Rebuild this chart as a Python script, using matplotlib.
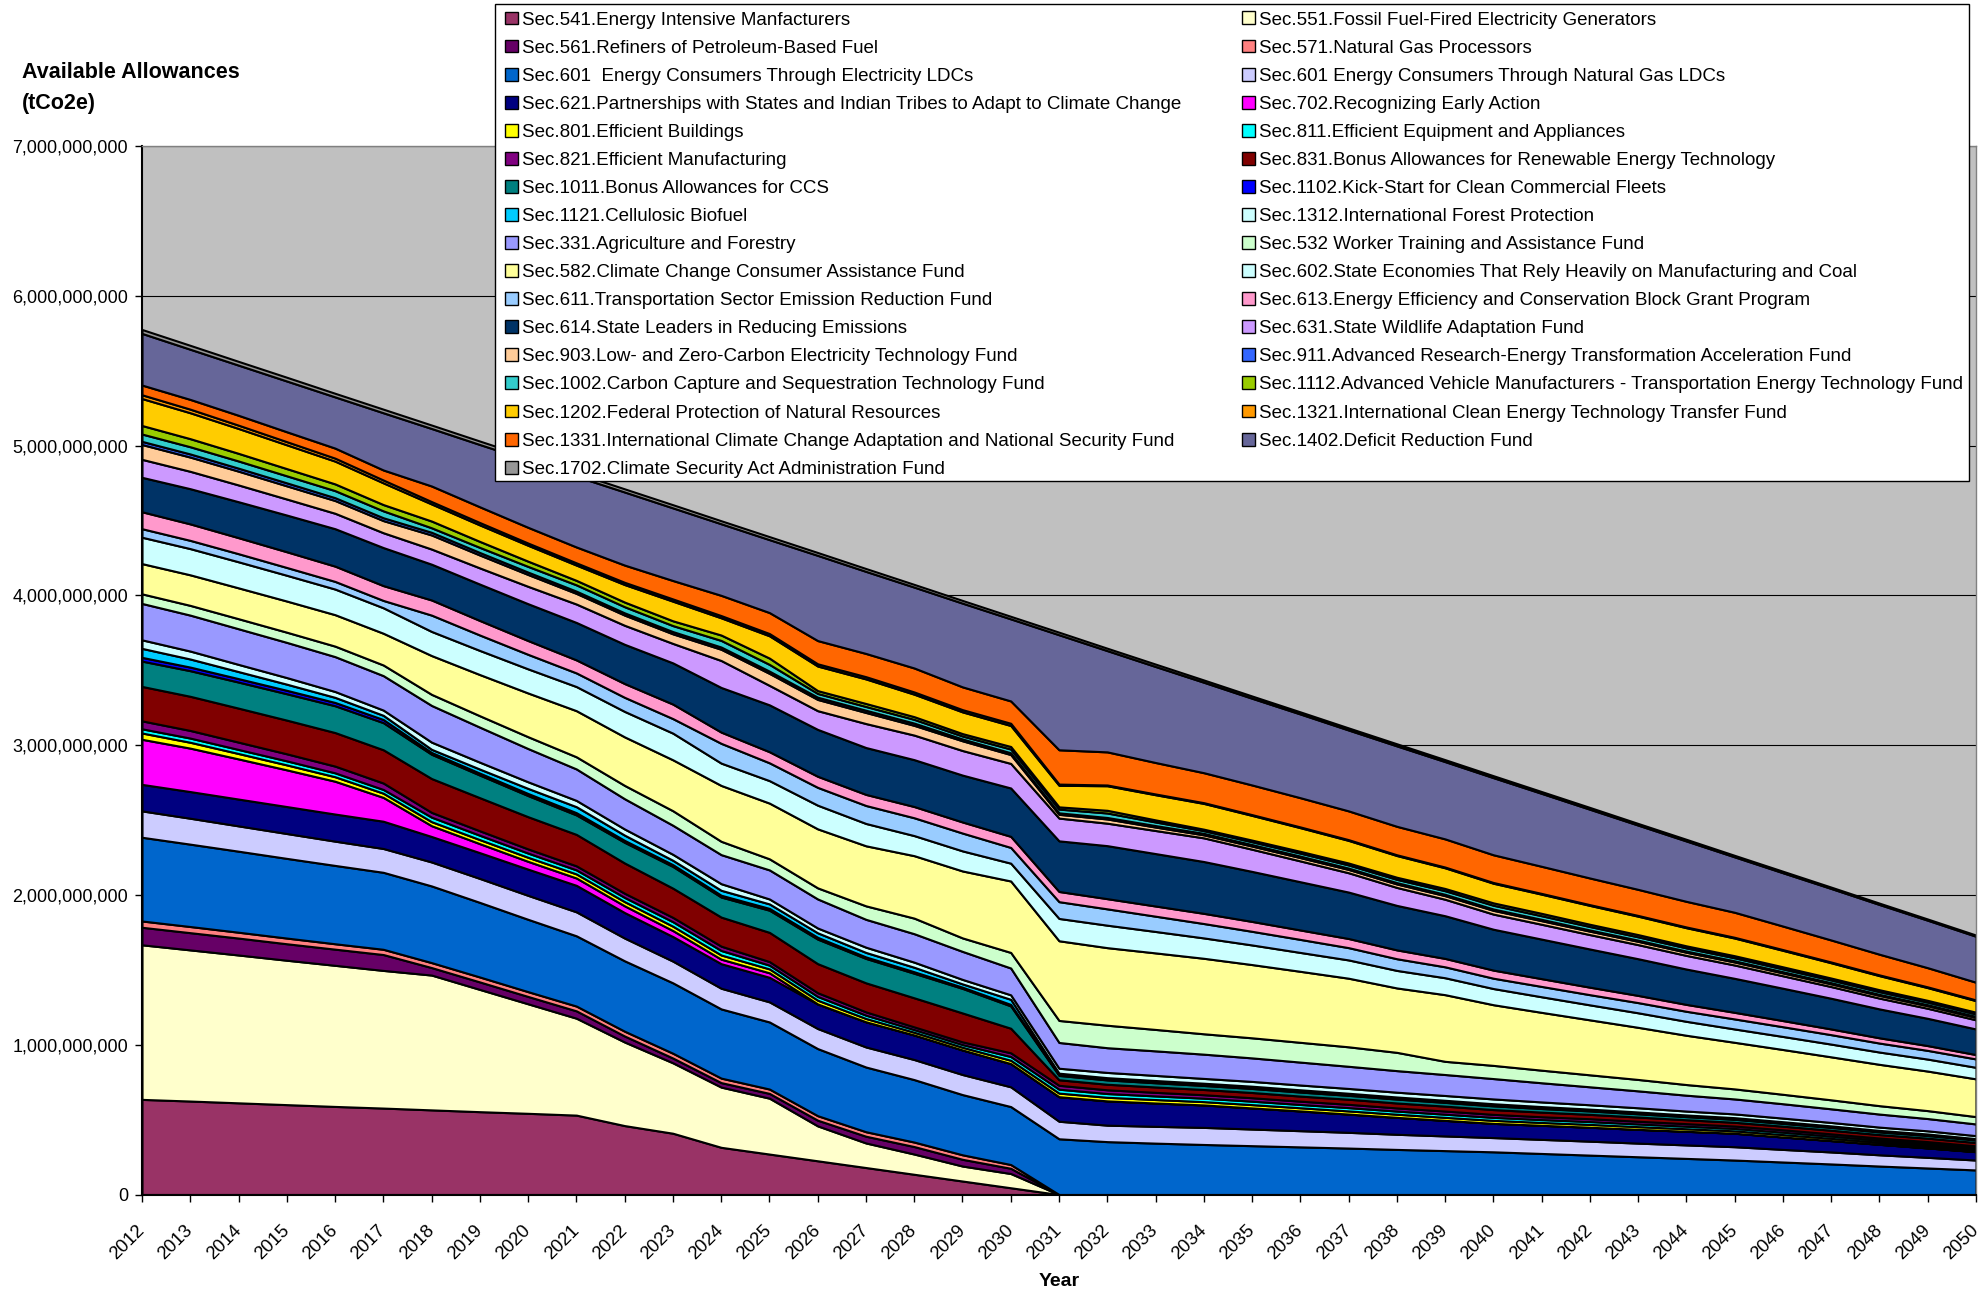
import matplotlib
matplotlib.use('Agg')
import matplotlib.pyplot as plt
from matplotlib.patches import Patch, Rectangle
from matplotlib.ticker import FuncFormatter, MultipleLocator

plt.rcParams['font.family'] = ['Liberation Sans', 'DejaVu Sans']

years = list(range(2012, 2051))

# allowances per section, million tCO2e, 2012..2050
s541 = [635, 624, 612, 600, 588, 577, 565, 553, 542, 530, 460, 409, 315, 270, 225, 180, 135, 90, 45,
        0, 0, 0, 0, 0, 0, 0, 0, 0, 0, 0, 0, 0, 0, 0, 0, 0, 0, 0, 0]
s551 = [1032, 1009, 987, 964, 942, 919, 900, 816, 731, 647, 558, 470, 402, 373, 233, 164, 135, 100, 95,
        0, 0, 0, 0, 0, 0, 0, 0, 0, 0, 0, 0, 0, 0, 0, 0, 0, 0, 0, 0]
s561 = [117, 115, 113, 110, 108, 106, 50, 50, 49, 49, 40, 32, 30, 32, 38, 45, 50, 45, 35,
        0, 0, 0, 0, 0, 0, 0, 0, 0, 0, 0, 0, 0, 0, 0, 0, 0, 0, 0, 0]
s571 = [42, 41, 39, 38, 36, 35, 33, 33, 32, 32, 32, 32, 30, 29, 30, 30, 30, 30, 25,
        0, 0, 0, 0, 0, 0, 0, 0, 0, 0, 0, 0, 0, 0, 0, 0, 0, 0, 0, 0]
s601e = [559, 550, 541, 532, 523, 514, 512, 498, 483, 469, 470, 470, 462, 448, 448, 432, 417, 402, 387,
         372, 353, 343, 334, 326, 318, 310, 301, 293, 285, 274, 263, 252, 241, 230, 217, 204, 190, 177, 164]
s601g = [176, 173, 169, 166, 162, 159, 160, 160, 160, 160, 152, 145, 138, 134, 134, 134, 134, 134, 132,
         117, 110, 112, 114, 111, 108, 105, 101, 98, 95, 94, 93, 91, 90, 89, 84, 80, 75, 71, 66]
s621 = [177, 178, 179, 180, 181, 182, 170, 172, 175, 177, 170, 164, 164, 164, 164, 168, 164, 164, 155,
        164, 162, 156, 150, 141, 132, 122, 113, 104, 95, 94, 93, 92, 91, 90, 83, 76, 70, 63, 56]
s702 = [301, 290, 268, 245, 219, 159, 72, 60, 52, 49, 45, 40, 30, 30, 0, 0, 0, 0, 0,
        0, 0, 0, 0, 0, 0, 0, 0, 0, 0, 0, 0, 0, 0, 0, 0, 0, 0, 0, 0]
s801 = [42, 39, 36, 33, 30, 28, 27, 27, 27, 27, 28, 29, 28, 26, 25, 22, 18, 18, 22,
        24, 24, 23, 22, 22, 21, 21, 21, 20, 20, 19, 19, 18, 17, 16, 16, 15, 14, 14, 13]
s811 = [28, 28, 27, 27, 26, 25, 30, 29, 28, 27, 28, 30, 30, 25, 25, 22, 18, 18, 25,
        26, 25, 24, 23, 23, 22, 22, 21, 21, 20, 19, 19, 18, 17, 16, 16, 15, 14, 14, 13]
s821 = [53, 51, 49, 47, 45, 43, 32, 30, 28, 27, 28, 29, 29, 24, 25, 22, 18, 18, 25,
        26, 25, 24, 23, 23, 22, 22, 21, 21, 20, 19, 19, 18, 17, 16, 16, 15, 14, 14, 13]
s831 = [230, 228, 227, 225, 224, 222, 226, 221, 215, 210, 202, 195, 194, 195, 194, 194, 194, 193, 164,
        37, 37, 36, 35, 35, 34, 34, 33, 33, 32, 31, 29, 28, 26, 25, 24, 24, 23, 23, 22]
s1011 = [169, 171, 174, 176, 179, 181, 162, 151, 141, 130, 138, 145, 134, 148, 164, 163, 164, 164, 149,
         29, 29, 28, 27, 27, 27, 26, 26, 25, 25, 24, 23, 22, 21, 20, 19, 19, 18, 18, 17]
s1102 = [25, 24, 23, 23, 22, 21, 12, 13, 14, 15, 13, 12, 12, 12, 12, 10, 10, 8, 10,
         5, 5, 5, 5, 5, 5, 5, 5, 5, 5, 5, 4, 4, 4, 4, 4, 4, 4, 4, 4]
s1121 = [60, 54, 47, 41, 34, 28, 21, 27, 34, 40, 35, 29, 33, 30, 30, 30, 30, 22, 34,
         10, 10, 10, 10, 10, 10, 9, 9, 9, 9, 8, 8, 8, 7, 7, 7, 6, 6, 6, 5]
s1312 = [57, 53, 48, 44, 39, 35, 48, 46, 44, 42, 41, 40, 44, 33, 32, 35, 34, 30, 30,
         33, 35, 34, 32, 32, 32, 32, 32, 32, 32, 31, 29, 28, 26, 25, 24, 23, 22, 21, 20]
s331 = [243, 240, 238, 235, 233, 230, 245, 234, 222, 210, 202, 194, 194, 194, 194, 186, 190, 187, 179,
        172, 165, 164, 162, 157, 153, 148, 144, 140, 136, 128, 120, 113, 106, 100, 96, 91, 87, 82, 78]
s532 = [64, 65, 67, 68, 70, 71, 74, 76, 79, 81, 89, 97, 89, 74, 74, 90, 104, 90, 104,
        147, 150, 143, 136, 134, 132, 130, 122, 88, 88, 84, 80, 76, 71, 67, 63, 60, 56, 53, 49]
s582 = [202, 204, 206, 208, 210, 212, 259, 275, 292, 308, 324, 340, 373, 372, 394, 401, 417, 447, 477,
        532, 518, 511, 504, 489, 474, 458, 430, 445, 405, 386, 367, 348, 329, 311, 299, 287, 276, 264, 252]
s602 = [176, 175, 174, 172, 171, 170, 161, 161, 161, 161, 170, 178, 149, 150, 158, 149, 134, 134, 119,
        149, 150, 143, 136, 131, 126, 122, 117, 113, 108, 104, 100, 97, 93, 89, 87, 85, 82, 80, 77]
s611 = [57, 55, 54, 52, 51, 49, 109, 103, 97, 91, 94, 97, 132, 119, 119, 120, 119, 119, 105,
        112, 109, 102, 96, 91, 87, 82, 78, 73, 69, 69, 68, 68, 67, 67, 65, 63, 60, 58, 56]
s613 = [113, 110, 107, 105, 102, 99, 101, 97, 92, 87, 92, 97, 75, 74, 74, 74, 75, 74, 74,
        68, 68, 68, 68, 66, 63, 61, 59, 56, 54, 52, 50, 48, 46, 44, 41, 38, 35, 32, 29]
s614 = [230, 235, 240, 245, 250, 254, 239, 243, 246, 250, 262, 275, 298, 313, 313, 313, 313, 313, 323,
        338, 354, 350, 346, 334, 322, 310, 297, 285, 273, 264, 255, 245, 236, 227, 216, 205, 193, 182, 171]
s631 = [120, 116, 112, 107, 103, 99, 101, 108, 116, 123, 127, 130, 180, 130, 125, 160, 164, 164, 164,
        152, 150, 154, 158, 148, 139, 129, 120, 110, 101, 99, 96, 94, 91, 89, 83, 78, 72, 67, 61]
s903 = [99, 95, 92, 88, 85, 81, 94, 86, 79, 71, 68, 64, 75, 80, 75, 74, 65, 65, 59,
        25, 28, 23, 20, 21, 22, 22, 23, 24, 25, 24, 23, 22, 21, 20, 19, 18, 18, 17, 16]
s911 = [21, 21, 20, 20, 19, 19, 18, 17, 16, 15, 15, 15, 15, 15, 15, 15, 15, 12, 12,
        10, 10, 10, 10, 10, 10, 9, 9, 9, 9, 9, 8, 8, 8, 8, 8, 8, 7, 7, 7]
s1002 = [49, 48, 48, 47, 47, 46, 30, 34, 38, 42, 41, 40, 44, 45, 25, 25, 25, 20, 25,
         25, 30, 24, 18, 19, 20, 21, 22, 24, 25, 24, 23, 22, 21, 20, 19, 18, 18, 17, 16]
s1112 = [57, 54, 51, 48, 45, 42, 45, 40, 35, 30, 31, 32, 36, 42, 19, 20, 18, 16, 17,
         15, 18, 14, 10, 11, 12, 13, 14, 15, 16, 16, 15, 15, 14, 14, 14, 13, 13, 12, 12]
s1202 = [180, 173, 166, 159, 152, 145, 114, 110, 106, 102, 117, 131, 115, 149, 164, 164, 150, 145, 140,
         144, 164, 168, 172, 165, 158, 151, 145, 138, 131, 128, 126, 123, 121, 118, 110, 102, 94, 85, 77]
s1321 = [25, 24, 22, 21, 20, 19, 16, 16, 15, 15, 15, 15, 15, 15, 15, 15, 15, 15, 15,
         8, 5, 5, 5, 5, 5, 5, 5, 5, 5, 5, 5, 5, 5, 5, 5, 5, 5, 5, 5]
s1331 = [65, 65, 66, 66, 67, 67, 104, 105, 105, 106, 115, 123, 135, 140, 155, 155, 160, 152, 149,
         229, 221, 210, 200, 198, 195, 192, 190, 188, 185, 181, 178, 174, 171, 167, 157, 147, 138, 128, 118]
s1402 = [345, 335, 335, 339, 342, 382, 384, 416, 448, 472, 488, 485, 478, 487, 569, 548, 540, 559, 548,
         768, 676, 641, 604, 579, 559, 540, 537, 516, 515, 487, 459, 429, 403, 370, 356, 344, 332, 317, 307]
s1702 = [26, 26, 25, 25, 24, 24, 23, 23, 22, 22, 21, 21, 20, 20, 19, 19, 18, 18, 17,
         17, 16, 16, 15, 15, 14, 14, 14, 13, 13, 12, 12, 11, 11, 10, 10, 9, 9, 8, 8]

labels = [
    'Sec.541.Energy Intensive Manfacturers',
    'Sec.551.Fossil Fuel-Fired Electricity Generators',
    'Sec.561.Refiners of Petroleum-Based Fuel',
    'Sec.571.Natural Gas Processors',
    'Sec.601  Energy Consumers Through Electricity LDCs',
    'Sec.601 Energy Consumers Through Natural Gas LDCs',
    'Sec.621.Partnerships with States and Indian Tribes to Adapt to Climate Change',
    'Sec.702.Recognizing Early Action',
    'Sec.801.Efficient Buildings',
    'Sec.811.Efficient Equipment and Appliances',
    'Sec.821.Efficient Manufacturing',
    'Sec.831.Bonus Allowances for Renewable Energy Technology',
    'Sec.1011.Bonus Allowances for CCS',
    'Sec.1102.Kick-Start for Clean Commercial Fleets',
    'Sec.1121.Cellulosic Biofuel',
    'Sec.1312.International Forest Protection',
    'Sec.331.Agriculture and Forestry',
    'Sec.532 Worker Training and Assistance Fund',
    'Sec.582.Climate Change Consumer Assistance Fund',
    'Sec.602.State Economies That Rely Heavily on Manufacturing and Coal',
    'Sec.611.Transportation Sector Emission Reduction Fund',
    'Sec.613.Energy Efficiency and Conservation Block Grant Program',
    'Sec.614.State Leaders in Reducing Emissions',
    'Sec.631.State Wildlife Adaptation Fund',
    'Sec.903.Low- and Zero-Carbon Electricity Technology Fund',
    'Sec.911.Advanced Research-Energy Transformation Acceleration Fund',
    'Sec.1002.Carbon Capture and Sequestration Technology Fund',
    'Sec.1112.Advanced Vehicle Manufacturers - Transportation Energy Technology Fund',
    'Sec.1202.Federal Protection of Natural Resources',
    'Sec.1321.International Clean Energy Technology Transfer Fund',
    'Sec.1331.International Climate Change Adaptation and National Security Fund',
    'Sec.1402.Deficit Reduction Fund',
    'Sec.1702.Climate Security Act Administration Fund',
]

colors = ['#993366', '#FFFFCC', '#660066', '#FF8080', '#0066CC', '#CCCCFF', '#000080',
          '#FF00FF', '#FFFF00', '#00FFFF', '#800080', '#800000', '#008080', '#0000FF',
          '#00CCFF', '#CCFFFF', '#9999FF', '#CCFFCC', '#FFFF99', '#CCFFFF', '#99CCFF',
          '#FF99CC', '#003366', '#CC99FF', '#FFCC99', '#3366FF', '#33CCCC', '#99CC00',
          '#FFCC00', '#FF9900', '#FF6600', '#666699', '#969696']

series = [s541, s551, s561, s571, s601e, s601g, s621, s702, s801, s811, s821, s831,
          s1011, s1102, s1121, s1312, s331, s532, s582, s602, s611, s613, s614, s631,
          s903, s911, s1002, s1112, s1202, s1321, s1331, s1402, s1702]

for lab, s in zip(labels, series):
    if len(s) != len(years):
        raise ValueError('%s has %d values' % (lab, len(s)))

W, H = 1984, 1294
fig = plt.figure(figsize=(W / 100, H / 100), dpi=100)
ax = fig.add_axes([142 / W, 1 - 1194.5 / H, (1976 - 142) / W, (1194.5 - 146) / H])
ax.set_facecolor('#C0C0C0')

vals = [[v * 1e6 for v in s] for s in series]
ax.stackplot(years, *vals, colors=colors, edgecolor='black', linewidth=1.5)

ax.set_xlim(2012, 2050)
ax.set_ylim(0, 7e9)
ax.yaxis.set_major_locator(MultipleLocator(1e9))
ax.yaxis.set_major_formatter(FuncFormatter(lambda v, p: '{:,}'.format(int(round(v)))))
ax.set_xticks(years)
ax.set_xticklabels([str(y) for y in years])

ax.set_axisbelow(True)
ax.yaxis.grid(True, color='black', linewidth=0.8)

ax.tick_params(axis='y', length=5, width=1, pad=5, labelsize=13)
ax.tick_params(axis='x', length=5, width=1, pad=19, labelsize=13.3)
plt.setp(ax.get_xticklabels(), rotation=45, ha='right', va='center', rotation_mode='anchor')

for side in ['left', 'bottom']:
    ax.spines[side].set_color('black')
    ax.spines[side].set_linewidth(1.5)
for side in ['top', 'right']:
    ax.spines[side].set_color('#808080')
    ax.spines[side].set_linewidth(1)

# title and axis caption
fig.text(22 / W, 1 - 73 / H, 'Available Allowances', fontsize=15.5, fontweight='bold',
         ha='left', va='center')
fig.text(22 / W, 1 - 103 / H, '(tCo2e)', fontsize=15.5, fontweight='bold',
         ha='left', va='center')
fig.text(1059 / W, 1 - 1282 / H, 'Year', fontsize=14, fontweight='bold',
         ha='center', va='center')

# legend box, entries read row by row in two columns
frame = Rectangle((495 / W, 1 - 481 / H), 1474 / W, 477 / H, transform=fig.transFigure,
                  facecolor='white', edgecolor='black', linewidth=1, zorder=3)
fig.add_artist(frame)

handles = [Patch(facecolor=c, edgecolor='black', linewidth=1) for c in colors]
left_idx = list(range(0, len(labels), 2))
right_idx = list(range(1, len(labels), 2))
for idx, x0 in [(left_idx, 505), (right_idx, 1242)]:
    leg = fig.legend([handles[i] for i in idx], [labels[i] for i in idx],
                     loc='upper left', bbox_to_anchor=(x0 / W, 1 - 11.5 / H),
                     frameon=False, fontsize=13.5, borderpad=0, borderaxespad=0,
                     handlelength=0.68, handleheight=0.68, handletextpad=0.25,
                     labelspacing=0.59)
    leg.set_zorder(5)

fig.savefig('out.png', dpi=100)
